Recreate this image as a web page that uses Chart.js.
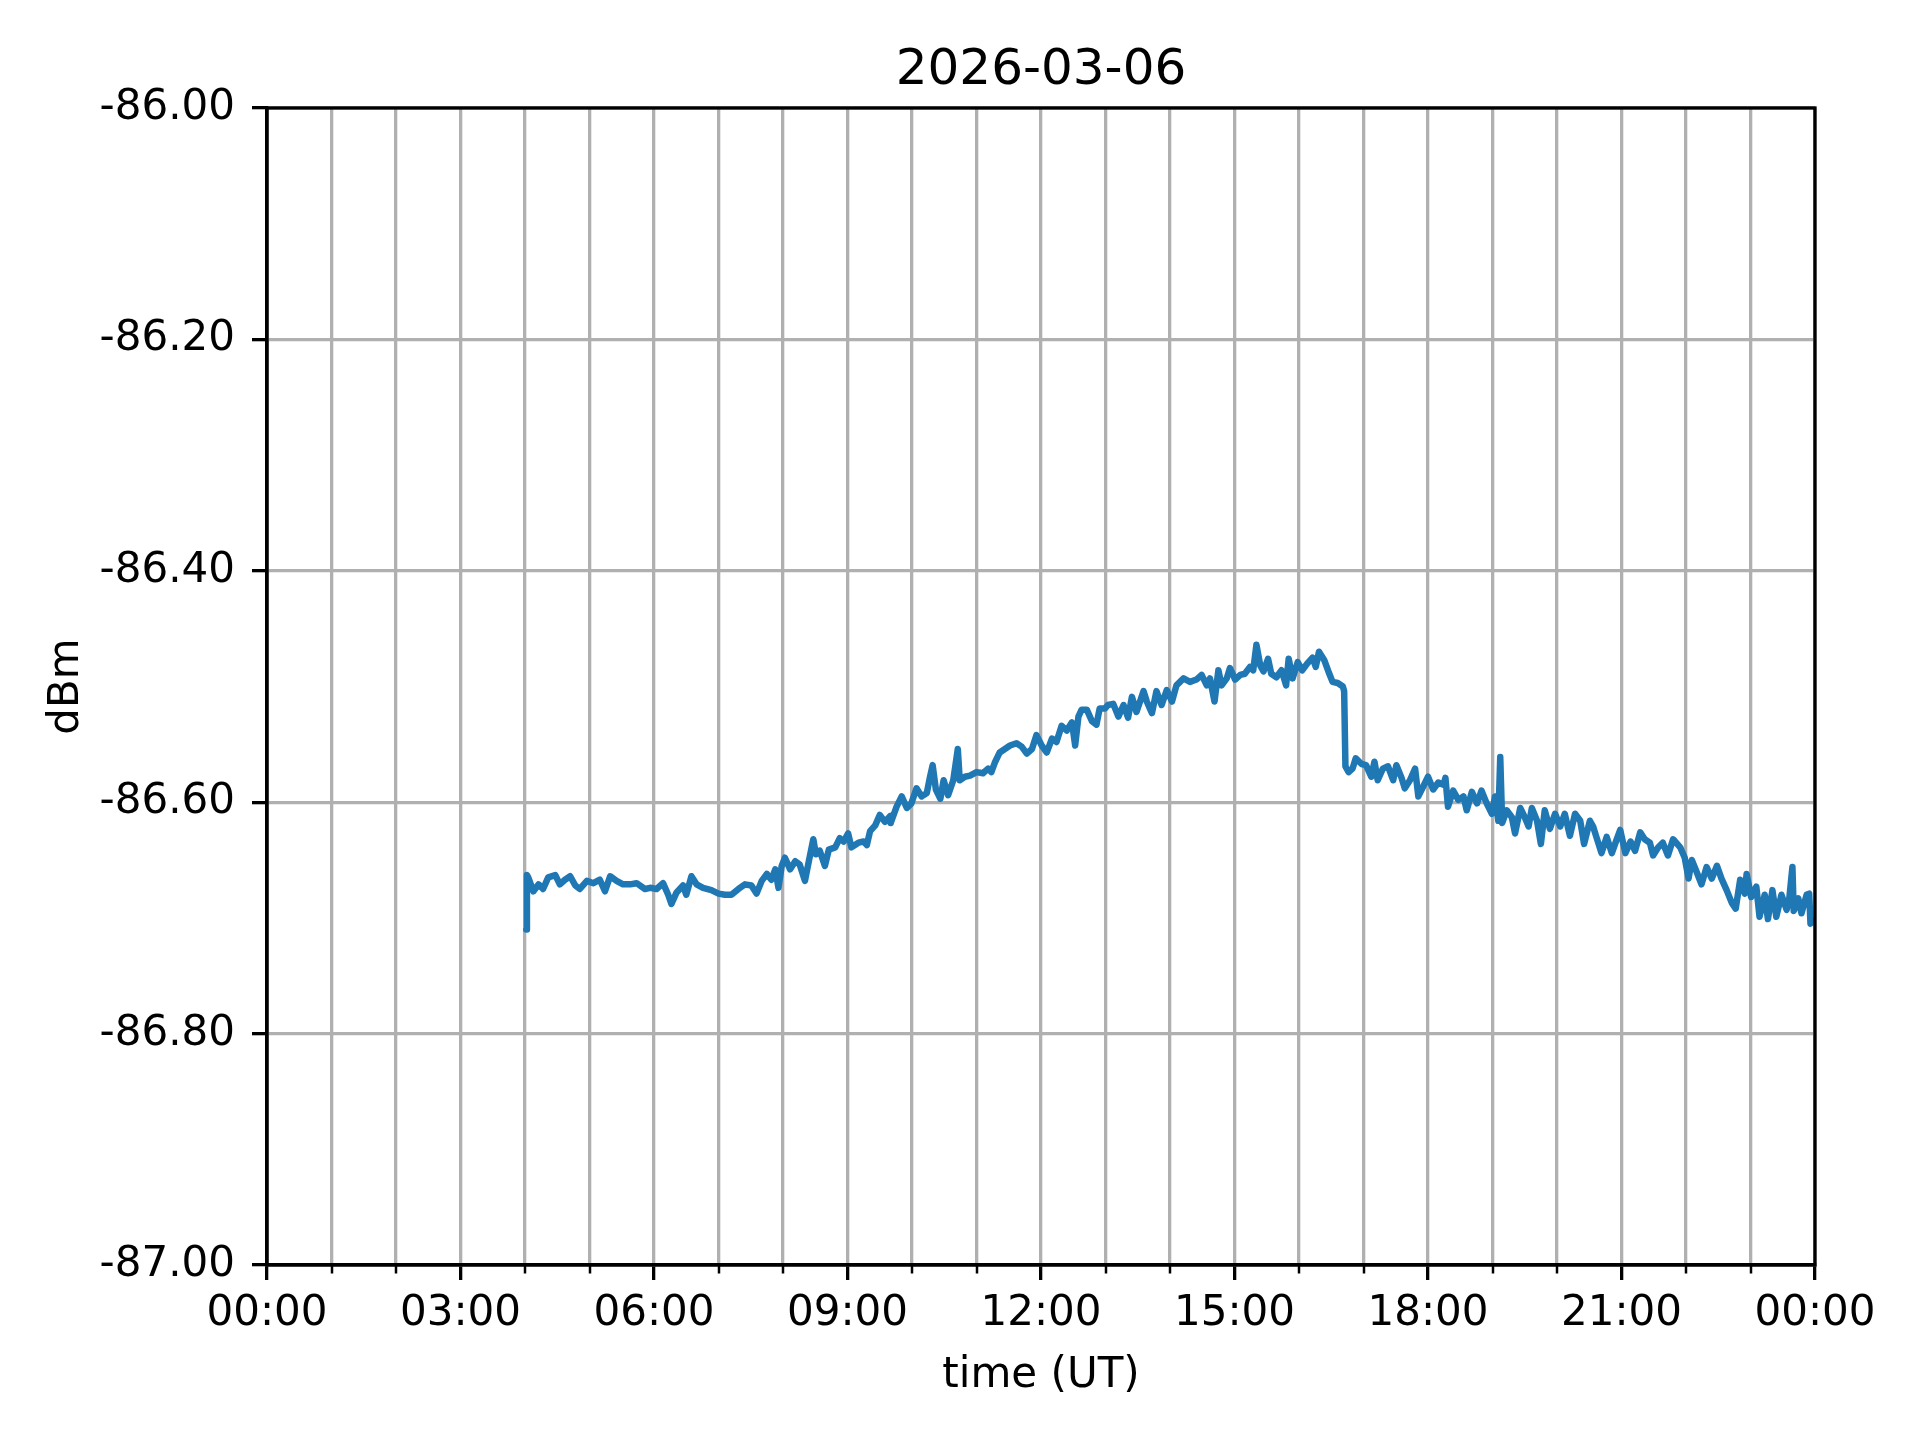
<!DOCTYPE html>
<html>
<head>
<meta charset="utf-8">
<script src="https://cdn.jsdelivr.net/npm/chart.js@4.4.1/dist/chart.umd.min.js"></script>
<style>
  body { margin: 0; background: #fff; }
  #wrap { width: 1920px; height: 1440px; }
</style>
</head>
<body>
<div id="wrap"><canvas id="dbm-chart" width="1920" height="1440"></canvas></div>
<script>
// readings for 2026-03-06, time in hours UT
const hours = [
  4.02, 4.03, 4.05, 4.13, 4.21, 4.28, 4.36, 4.47, 4.54, 4.62, 4.70, 4.78, 4.85, 4.96,
  5.06, 5.16, 5.24, 5.32, 5.42, 5.52, 5.63, 5.73, 5.86, 5.94,
  6.04, 6.14, 6.22, 6.27, 6.35, 6.45, 6.50, 6.58, 6.66, 6.76, 6.89,
  7.00, 7.10, 7.20, 7.31, 7.41, 7.51, 7.59, 7.67, 7.75, 7.82, 7.88, 7.93, 7.98,
  8.03, 8.11, 8.19, 8.26, 8.34, 8.39, 8.47, 8.51, 8.57, 8.65, 8.71, 8.81, 8.88, 8.94,
  9.01, 9.06, 9.17, 9.25, 9.30, 9.35, 9.43, 9.50, 9.58, 9.66, 9.67, 9.76, 9.84, 9.92, 9.99,
  10.07, 10.15, 10.23, 10.28, 10.32, 10.37, 10.44, 10.49, 10.56, 10.64, 10.71, 10.74, 10.82, 10.90,
  11.00, 11.10, 11.18, 11.23, 11.29, 11.36, 11.44, 11.52, 11.62, 11.70, 11.78, 11.86, 11.93,
  12.01, 12.09, 12.17, 12.24, 12.32, 12.40, 12.48, 12.53, 12.58, 12.63, 12.71, 12.79, 12.86, 12.91, 12.99,
  13.04, 13.12, 13.20, 13.28, 13.35, 13.41, 13.48, 13.59, 13.64, 13.72, 13.79, 13.87, 13.95,
  14.03, 14.10, 14.21, 14.31, 14.41, 14.49, 14.57, 14.62, 14.69, 14.75, 14.80, 14.88, 14.93,
  15.01, 15.09, 15.16, 15.24, 15.29, 15.34, 15.40, 15.45, 15.52, 15.57, 15.65, 15.73, 15.80, 15.84, 15.90, 15.98,
  16.05, 16.13, 16.21, 16.26, 16.31, 16.39, 16.47, 16.52, 16.60, 16.68, 16.70, 16.72, 16.77, 16.83, 16.88, 16.97,
  17.04, 17.12, 17.17, 17.22, 17.30, 17.38, 17.46, 17.51, 17.59, 17.64, 17.72, 17.80, 17.85, 17.93,
  18.00, 18.08, 18.16, 18.24, 18.27, 18.31, 18.39, 18.47, 18.55, 18.60, 18.68, 18.76, 18.83, 18.91, 18.99,
  19.04, 19.09, 19.12, 19.15, 19.22, 19.30, 19.35, 19.43, 19.50, 19.56, 19.61, 19.69, 19.75, 19.81, 19.89, 19.97,
  20.05, 20.12, 20.20, 20.28, 20.36, 20.42, 20.51, 20.56, 20.61, 20.69, 20.77, 20.85, 20.92, 20.98,
  21.06, 21.14, 21.21, 21.29, 21.36, 21.44, 21.49, 21.57, 21.64, 21.72, 21.80, 21.91, 21.98,
  22.04, 22.09, 22.17, 22.24, 22.32, 22.40, 22.48, 22.55, 22.63, 22.71, 22.77, 22.84, 22.91, 22.94,
  23.01, 23.09, 23.14, 23.22, 23.27, 23.34, 23.40, 23.48, 23.56, 23.60, 23.65, 23.67, 23.74, 23.79, 23.87, 23.91, 23.93, 23.99
];

const dbm = [
  -86.710, -86.663, -86.665, -86.677, -86.671, -86.675, -86.665, -86.663, -86.671, -86.667, -86.664, -86.672, -86.675, -86.668,
  -86.670, -86.667, -86.677, -86.664, -86.668, -86.671, -86.671, -86.670, -86.675, -86.674,
  -86.675, -86.670, -86.680, -86.688, -86.678, -86.672, -86.680, -86.664, -86.671, -86.674, -86.676,
  -86.679, -86.680, -86.680, -86.675, -86.671, -86.672, -86.679, -86.668, -86.662, -86.667, -86.658, -86.674, -86.655,
  -86.648, -86.658, -86.651, -86.654, -86.668, -86.654, -86.632, -86.645, -86.642, -86.655, -86.641, -86.639, -86.631, -86.634,
  -86.627, -86.639, -86.635, -86.634, -86.637, -86.625, -86.620, -86.611, -86.617, -86.612, -86.618, -86.604, -86.595, -86.605, -86.601,
  -86.588, -86.595, -86.592, -86.578, -86.568, -86.589, -86.597, -86.581, -86.594, -86.581, -86.554, -86.581, -86.578, -86.577,
  -86.574, -86.575, -86.571, -86.574, -86.565, -86.557, -86.554, -86.551, -86.549, -86.552, -86.558, -86.554, -86.542,
  -86.551, -86.557, -86.545, -86.548, -86.534, -86.538, -86.531, -86.551, -86.526, -86.520, -86.520, -86.530, -86.533, -86.519, -86.519,
  -86.516, -86.515, -86.526, -86.516, -86.527, -86.509, -86.522, -86.504, -86.513, -86.523, -86.504, -86.516, -86.503,
  -86.513, -86.499, -86.493, -86.496, -86.494, -86.490, -86.499, -86.493, -86.513, -86.486, -86.499, -86.493, -86.484,
  -86.494, -86.490, -86.489, -86.483, -86.486, -86.464, -86.482, -86.487, -86.476, -86.489, -86.492, -86.486, -86.499, -86.476, -86.493, -86.479,
  -86.486, -86.480, -86.475, -86.483, -86.470, -86.477, -86.489, -86.496, -86.497, -86.500, -86.504, -86.569, -86.574, -86.571, -86.562, -86.567,
  -86.568, -86.578, -86.565, -86.581, -86.571, -86.569, -86.581, -86.568, -86.579, -86.588, -86.581, -86.571, -86.595, -86.586,
  -86.578, -86.589, -86.583, -86.585, -86.579, -86.604, -86.590, -86.598, -86.595, -86.607, -86.591, -86.601, -86.590, -86.601, -86.610,
  -86.595, -86.616, -86.561, -86.618, -86.607, -86.613, -86.627, -86.605, -86.613, -86.621, -86.605, -86.616, -86.636, -86.607, -86.623, -86.610,
  -86.621, -86.610, -86.629, -86.610, -86.616, -86.636, -86.616, -86.621, -86.630, -86.644, -86.630, -86.644, -86.633, -86.624,
  -86.644, -86.634, -86.642, -86.626, -86.632, -86.635, -86.646, -86.639, -86.635, -86.646, -86.632, -86.639, -86.648,
  -86.666, -86.650, -86.661, -86.671, -86.656, -86.666, -86.655, -86.666, -86.676, -86.687, -86.692, -86.667, -86.679, -86.662,
  -86.682, -86.673, -86.699, -86.680, -86.701, -86.676, -86.699, -86.680, -86.693, -86.684, -86.656, -86.694, -86.683, -86.696, -86.680, -86.679, -86.705, -86.702
];

const hourTicks = [0, 1, 2, 3, 4, 5, 6, 7, 8, 9, 10, 11, 12, 13, 14, 15, 16, 17, 18, 19, 20, 21, 22, 23, 24];
const labelEvery = 3;
const yTicks = [-87.0, -86.8, -86.6, -86.4, -86.2, -86.0];

const FONT = "'DejaVu Sans', sans-serif";
const GRID = "#b0b0b0";

function hourLabel(h) {
  if (h % labelEvery !== 0) return "";
  const hh = h % 24;
  return (hh < 10 ? "0" : "") + hh + ":00";
}

// matplotlib style box + short minor ticks on the time axis
const framePlugin = {
  id: "frame",
  afterDatasetsDraw(chart) {
    const { ctx, chartArea: a, scales } = chart;
    ctx.save();
    ctx.strokeStyle = "#000";
    ctx.lineWidth = 2.5;
    scales.x.ticks.forEach(t => {
      if (t.value % labelEvery === 0) return;
      const px = Math.round(scales.x.getPixelForValue(t.value));
      ctx.beginPath();
      ctx.moveTo(px, a.bottom);
      ctx.lineTo(px, a.bottom + 8.5);
      ctx.stroke();
    });
    ctx.lineWidth = 3.3;
    ctx.strokeRect(a.left, a.top, a.right - a.left, a.bottom - a.top);
    ctx.restore();
  }
};

const points = hours.map((h, i) => ({ x: h, y: dbm[i] }));

new Chart(document.getElementById("dbm-chart"), {
  type: "line",
  data: {
    datasets: [{
      data: points,
      borderColor: "#1f77b4",
      borderWidth: 6.5,
      pointRadius: 0,
      tension: 0,
      borderJoinStyle: "round",
      borderCapStyle: "round",
      fill: false
    }]
  },
  options: {
    responsive: false,
    animation: false,
    layout: { padding: { left: 0, right: 105, top: 0, bottom: 0 } },
    plugins: {
      legend: { display: false },
      tooltip: { enabled: false },
      title: {
        display: true,
        text: "2026-03-06",
        fullSize: false,
        color: "#000",
        font: { family: FONT, size: 50, weight: "normal" },
        padding: { top: 41, bottom: 7 }
      }
    },
    scales: {
      x: {
        type: "linear",
        min: 0,
        max: 24,
        afterBuildTicks: scale => { scale.ticks = hourTicks.map(v => ({ value: v })); },
        afterFit: scale => { scale.height = 175; },
        grid: {
          color: GRID,
          lineWidth: 3.3,
          drawTicks: true,
          tickLength: 15,
          tickWidth: 3.3,
          tickColor: ctx => (ctx.tick && ctx.tick.value % labelEvery === 0) ? "#000" : "rgba(0,0,0,0)"
        },
        border: { display: true, color: "#000", width: 3.3 },
        ticks: {
          autoSkip: false,
          maxRotation: 0,
          padding: 9,
          color: "#000",
          font: { family: FONT, size: 42 },
          callback: v => hourLabel(v)
        },
        title: {
          display: true,
          text: "time (UT)",
          color: "#000",
          font: { family: FONT, size: 42 },
          padding: { top: 0, bottom: 39 }
        }
      },
      y: {
        min: -87,
        max: -86,
        afterBuildTicks: scale => { scale.ticks = yTicks.map(v => ({ value: v })); },
        afterFit: scale => { scale.width = 267; },
        grid: {
          color: GRID,
          lineWidth: 3.3,
          drawTicks: true,
          tickLength: 15,
          tickWidth: 3.3,
          tickColor: "#000"
        },
        border: { display: true, color: "#000", width: 3.3 },
        ticks: {
          padding: 17,
          color: "#000",
          font: { family: FONT, size: 42 },
          callback: v => v.toFixed(2)
        },
        title: {
          display: true,
          text: "dBm",
          color: "#000",
          font: { family: FONT, size: 42 },
          padding: { top: 42, bottom: 0 }
        }
      }
    }
  },
  plugins: [framePlugin]
});
</script>
</body>
</html>
